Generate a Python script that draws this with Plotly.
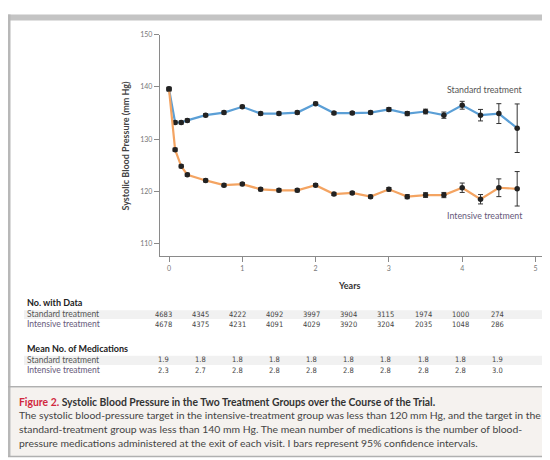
import plotly.graph_objects as go

# ---------------- data ----------------
months = [0, 1, 2, 3, 6, 9, 12, 15, 18, 21, 24, 27, 30, 33, 36, 39, 42, 45, 48, 51, 54, 57]
standard_sbp = [139.6, 133.2, 133.2, 133.6, 134.6, 135.1, 136.2, 134.9, 134.9, 135.1, 136.8,
                135.0, 135.0, 135.1, 135.7, 134.9, 135.3, 134.6, 136.5, 134.6, 134.9, 132.1]
standard_ci = [0.35, 0.3, 0.3, 0.3, 0.3, 0.3, 0.3, 0.3, 0.3, 0.3, 0.3,
               0.3, 0.3, 0.3, 0.35, 0.4, 0.45, 0.6, 0.75, 1.1, 1.9, 4.65]
intensive_sbp = [139.6, 128.0, 124.8, 123.2, 122.1, 121.2, 121.4, 120.4, 120.2, 120.2, 121.2,
                 119.5, 119.7, 119.0, 120.4, 119.0, 119.3, 119.3, 120.7, 118.5, 120.7, 120.5]
intensive_ci = [0.35, 0.3, 0.3, 0.3, 0.3, 0.3, 0.3, 0.3, 0.3, 0.3, 0.3,
                0.3, 0.3, 0.3, 0.35, 0.4, 0.45, 0.5, 0.9, 0.9, 1.7, 3.3]

table_years = [0, 0.5, 1, 1.5, 2, 2.5, 3, 3.5, 4, 4.5]
n_standard = [4683, 4345, 4222, 4092, 3997, 3904, 3115, 1974, 1000, 274]
n_intensive = [4678, 4375, 4231, 4091, 4029, 3920, 3204, 2035, 1048, 286]
med_standard = ["1.9", "1.8", "1.8", "1.8", "1.8", "1.8", "1.8", "1.8", "1.8", "1.9"]
med_intensive = ["2.3", "2.7", "2.8", "2.8", "2.8", "2.8", "2.8", "2.8", "2.8", "3.0"]

y_ticks = [110, 120, 130, 140, 150]
x_ticks = [0, 1, 2, 3, 4, 5]

caption_title = "Systolic Blood Pressure in the Two Treatment Groups over the Course of the Trial."
caption_lines = [
    "The systolic blood-pressure target in the intensive-treatment group was less than 120 mm Hg, and the target in the",
    "standard-treatment group was less than 140 mm Hg. The mean number of medications is the number of blood-",
    "pressure medications administered at the exit of each visit. I bars represent 95% confidence intervals.",
]

years = [m / 12 for m in months]

# page body has an 8px margin: lay out in window pixels, shifted by OFF
OFF = 8
W, H = 550 - OFF, 460 - OFF
def px(x):
    return (x - OFF) / W
def py(y):
    return 1 - (y - OFF) / H

FONT = "Lato"
NUMFONT = "Liberation Sans Narrow, Arial Narrow, DejaVu Sans Condensed, sans-serif"
BLUE = "#5b9fd6"
ORANGE = "#f4a462"
MARK = "#222222"

fig = go.Figure()

for vals, ci, col in [(standard_sbp, standard_ci, BLUE), (intensive_sbp, intensive_ci, ORANGE)]:
    fig.add_trace(go.Scatter(
        x=years, y=vals, mode="lines+markers",
        line=dict(color=col, width=2.2),
        marker=dict(color=MARK, size=5.5, symbol="circle"),
        error_y=dict(type="data", array=ci, visible=True, color="#333333", thickness=1, width=2.5),
        showlegend=False, hoverinfo="skip",
    ))

fig.update_layout(
    width=W, height=H,
    margin=dict(l=0, r=0, t=0, b=0),
    paper_bgcolor="white", plot_bgcolor="white",
    font=dict(family=FONT, color="#444"),
    showlegend=False,
    xaxis=dict(
        domain=[px(160), px(543)],
        range=[-9 / 73.3, (543 - 169) / 73.3],
        tickvals=x_ticks, ticktext=[str(t) for t in x_ticks],
        showline=True, linecolor="#8a8a8a", linewidth=1.4,
        ticks="outside", ticklen=5, tickcolor="#8a8a8a", tickwidth=1,
        tickfont=dict(size=7, color="#777", family=FONT),
        showgrid=False, zeroline=False, anchor="y",
    ),
    yaxis=dict(
        domain=[py(254), py(30)],
        range=[150 - 224 / 5.28, 150],
        tickvals=y_ticks, ticktext=[str(t) for t in y_ticks],
        showline=True, linecolor="#8a8a8a", linewidth=1.4,
        ticks="outside", ticklen=5, tickcolor="#8a8a8a", tickwidth=1,
        tickfont=dict(size=7, color="#777", family=FONT),
        showgrid=False, zeroline=False, anchor="x",
    ),
)

shapes = []
# frame: top bar, left border
shapes.append(dict(type="rect", xref="paper", yref="paper", x0=px(8), x1=1, y0=py(15.5), y1=py(9.5),
                   fillcolor="#c4c4c4", line=dict(width=0), layer="above"))
shapes.append(dict(type="rect", xref="paper", yref="paper", x0=px(8), x1=px(10.5), y0=py(457), y1=py(9.5),
                   fillcolor="#b8b8b8", line=dict(width=0), layer="above"))
# caption box
shapes.append(dict(type="rect", xref="paper", yref="paper", x0=px(10.5), x1=1, y0=py(456), y1=py(387),
                   fillcolor="#f5f2ef", line=dict(width=0), layer="below"))
shapes.append(dict(type="line", xref="paper", yref="paper", x0=px(8), x1=1, y0=py(386), y1=py(386),
                   line=dict(color="#b0b0b0", width=1.5)))
shapes.append(dict(type="line", xref="paper", yref="paper", x0=px(8), x1=1, y0=py(456.5), y1=py(456.5),
                   line=dict(color="#b0b0b0", width=1.5)))
# table row bands
for yb in [(308.5, 317.5), (354.5, 364)]:
    shapes.append(dict(type="rect", xref="paper", yref="paper", x0=px(24), x1=px(545), y0=py(yb[1]), y1=py(yb[0]),
                       fillcolor="#f1f1f1", line=dict(width=0), layer="below"))
fig.update_layout(shapes=shapes)

ann = []
# axis titles
ann.append(dict(text="<b>Systolic Blood Pressure (mm Hg)</b>", xref="paper", yref="paper",
                x=px(126), y=py(142), textangle=-90, showarrow=False,
                font=dict(size=9, color="#444", family=FONT), xanchor="center", yanchor="middle"))
ann.append(dict(text="<b>Years</b>", xref="paper", yref="paper", x=px(349), y=py(284), showarrow=False,
                font=dict(size=9, color="#333", family=FONT), xanchor="center", yanchor="middle"))
# series labels
ann.append(dict(text="Standard treatment", xref="paper", yref="paper", x=px(485), y=py(85), showarrow=False,
                font=dict(size=8.8, color="#555", family=FONT), xanchor="center", yanchor="middle"))
ann.append(dict(text="Intensive treatment", xref="paper", yref="paper", x=px(485), y=py(213), showarrow=False,
                font=dict(size=8.8, color="#66587a", family=FONT), xanchor="center", yanchor="middle"))

# tables
def head(text, y):
    ann.append(dict(text="<b>" + text + "</b>", xref="paper", yref="paper", x=px(25), y=py(y), showarrow=False,
                    font=dict(size=9, color="#222", family=FONT), xanchor="left", yanchor="middle"))

def row(label, vals, y, col):
    ann.append(dict(text=label, xref="paper", yref="paper", x=px(25), y=py(y), showarrow=False,
                    font=dict(size=8.5, color=col, family=FONT), xanchor="left", yanchor="middle"))
    for k, (yr, v) in enumerate(zip(table_years, vals)):
        ann.append(dict(text=str(v), xref="x", yref="paper", x=yr, xshift=-6 + 0.5 * k, y=py(y), showarrow=False,
                        font=dict(size=7.5, color="#444", family=NUMFONT), xanchor="center", yanchor="middle"))

head("No. with Data", 301)
row("Standard treatment", n_standard, 312.5, "#555")
row("Intensive treatment", n_intensive, 322.5, "#66587a")
head("Mean No. of Medications", 347)
row("Standard treatment", med_standard, 358.5, "#555")
row("Intensive treatment", med_intensive, 369, "#66587a")

# caption
ann.append(dict(text="<b><span style='color:#d1283e'>Figure 2.</span> " + caption_title + "</b>",
                xref="paper", yref="paper", x=px(17), y=py(401), showarrow=False,
                font=dict(size=10.4, color="#333", family=FONT), xanchor="left", yanchor="middle"))
for i, line in enumerate(caption_lines):
    ann.append(dict(text=line, xref="paper", yref="paper", x=px(17), y=py(415 + 13.8 * i), showarrow=False,
                    font=dict(size=10.4, color="#444", family=FONT), xanchor="left", yanchor="middle"))

fig.update_layout(annotations=ann)

fig.write_html("out.html")
